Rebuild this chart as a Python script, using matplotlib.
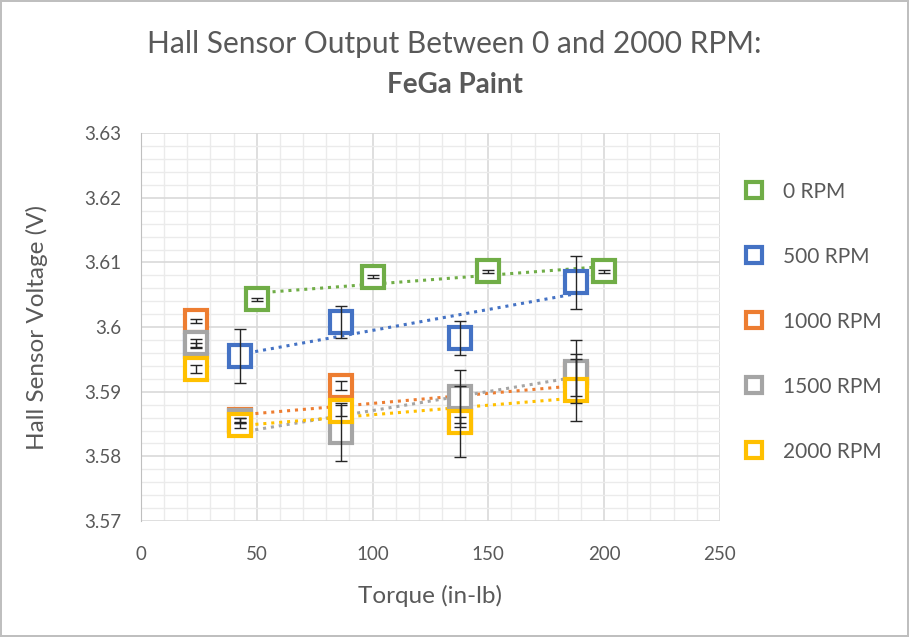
import numpy as np
import matplotlib.pyplot as plt
from matplotlib.ticker import MultipleLocator

# data
torque = [23.6, 42.6, 86.4, 137.9, 187.9]
torque_0rpm = [50, 100, 150, 200]

v_0 = [3.6043, 3.6078, 3.6086, 3.6086]
e_0 = [0.0002, 0.0002, 0.0002, 0.0002]
v_500 = [3.5971, 3.5955, 3.6008, 3.5983, 3.6069]
e_500 = [0.0004, 0.0042, 0.0025, 0.0026, 0.0041]
v_1000 = [3.6009, 3.5856, 3.5909, 3.5854, 3.5926]
e_1000 = [0.0003, 0.0003, 0.0007, 0.0055, 0.0032]
v_1500 = [3.5975, 3.5855, 3.5838, 3.5892, 3.5931]
e_1500 = [0.0006, 0.0004, 0.0045, 0.0041, 0.0049]
v_2000 = [3.5935, 3.5848, 3.5871, 3.5853, 3.5902]
e_2000 = [0.0006, 0.0004, 0.0008, 0.0008, 0.0048]

labels = ['0 RPM', '500 RPM', '1000 RPM', '1500 RPM', '2000 RPM']
colors = ['#70AD47', '#4472C4', '#ED7D31', '#A5A5A5', '#FFC000']

plt.rcParams['font.family'] = ['Lato', 'DejaVu Sans']
txt = '#595959'

fig = plt.figure(figsize=(9.09, 6.37), dpi=100, edgecolor='#BFBFBF', linewidth=1.5)
ax = fig.add_axes([0.155, 0.182, 0.637, 0.609])

series = [
    (torque_0rpm, v_0, e_0),
    (torque, v_500, e_500),
    (torque, v_1000, e_1000),
    (torque, v_1500, e_1500),
    (torque, v_2000, e_2000),
]

for i, (xs, ys, es) in enumerate(series):
    xs = np.array(xs)
    ys = np.array(ys)
    ax.plot(xs, ys, linestyle='none', marker='s', markersize=15.5,
            markerfacecolor='white', markeredgecolor=colors[i],
            markeredgewidth=3, label=labels[i], zorder=3 + i)
    ax.errorbar(xs, ys, yerr=es, fmt='none', ecolor='#262626',
                elinewidth=1, capsize=4.5, capthick=1, zorder=10)
    # linear trendline (first cluster not part of the fit for the RPM series)
    fx = xs if i == 0 else xs[1:]
    fy = ys if i == 0 else ys[1:]
    k, b = np.polyfit(fx, fy, 1)
    tx = np.array([fx.min(), fx.max()])
    ax.plot(tx, k * tx + b, linestyle=(0, (1, 1.6)), linewidth=2.2,
            color=colors[i], zorder=2)

ax.set_xlim(0, 250)
ax.set_ylim(3.57, 3.63)
ax.xaxis.set_major_locator(MultipleLocator(50))
ax.xaxis.set_minor_locator(MultipleLocator(10))
ax.yaxis.set_major_locator(MultipleLocator(0.01))
ax.yaxis.set_minor_locator(MultipleLocator(0.002))
ax.set_yticklabels([f'{v:g}' for v in np.round(ax.get_yticks(), 2)])
ax.grid(which='major', color='#D9D9D9', linewidth=1.2)
ax.grid(which='minor', color='#EBEBEB', linewidth=1)
ax.set_axisbelow(True)
ax.tick_params(which='both', length=0, labelsize=13.5, labelcolor=txt)
ax.tick_params(axis='x', pad=18)
ax.tick_params(axis='y', pad=14)

for s in ['top', 'right', 'bottom']:
    ax.spines[s].set_visible(False)
ax.spines['left'].set_color('#BFBFBF')

ax.set_xlabel('Torque (in-lb)', fontsize=17.5, color=txt, labelpad=16)
ax.set_ylabel('Hall Sensor Voltage (V)', fontsize=17.5, color=txt, labelpad=26)

fig.text(0.5, 0.931, 'Hall Sensor Output Between 0 and 2000 RPM:',
         ha='center', va='center', fontsize=21.5, color=txt)
fig.text(0.5, 0.866, 'FeGa Paint', ha='center', va='center',
         fontsize=20, fontweight='bold', color=txt)

ax.legend(loc='upper left', bbox_to_anchor=(1.018, 0.902), frameon=False,
          fontsize=15, labelcolor=txt, markerscale=0.72, labelspacing=2.16,
          handletextpad=0.75, borderpad=0, handlelength=1.3)

fig.savefig('out.png', dpi=100, edgecolor=fig.get_edgecolor())
